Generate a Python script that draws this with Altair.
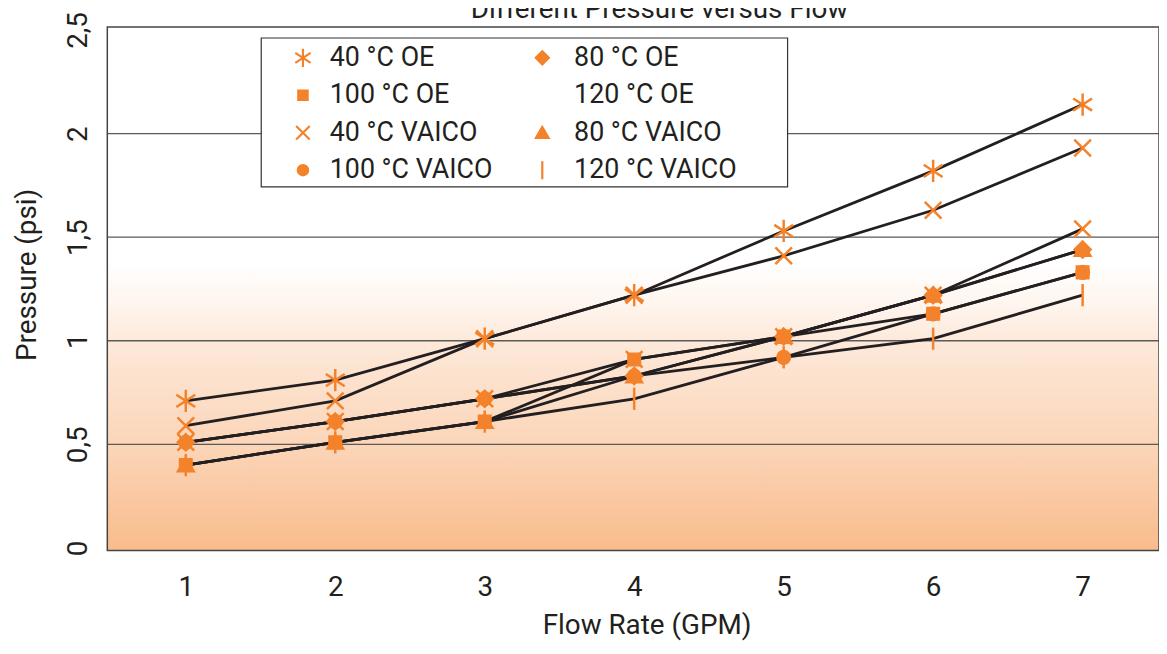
import altair as alt
import pandas as pd

# ---------------- data ----------------
flow = [1, 2, 3, 4, 5, 6, 7]

p_40_oe = [0.71, 0.81, 1.01, 1.22, 1.53, 1.82, 2.14]
p_100_oe = [0.40, 0.51, 0.61, 0.91, 1.02, 1.13, 1.33]
p_40_vaico = [0.59, 0.71, 1.01, 1.22, 1.41, 1.63, 1.93]
p_100_vaico = [0.51, 0.61, 0.72, 0.83, 0.92, 1.13, 1.33]
p_80_oe = [0.51, 0.61, 0.72, 0.83, 1.02, 1.22, 1.44]
p_120_oe = [0.51, 0.61, 0.72, 0.91, 1.02, 1.22, 1.54]
p_80_vaico = [0.40, 0.51, 0.61, 0.83, 1.02, 1.22, 1.44]
p_120_vaico = [0.40, 0.51, 0.61, 0.72, 0.92, 1.01, 1.22]

legend_names = ["40 °C OE", "100 °C OE", "40 °C VAICO", "100 °C VAICO",
                "80 °C OE", "120 °C OE", "80 °C VAICO", "120 °C VAICO"]
legend_markers = ["asterisk", "square", "cross", "circle",
                  "diamond", "none", "triangle", "bar"]
plot_markers = {"40 °C OE": "asterisk", "100 °C OE": "square",
                "40 °C VAICO": "cross", "100 °C VAICO": "circle",
                "80 °C OE": "diamond", "120 °C OE": "cross",
                "80 °C VAICO": "triangle", "120 °C VAICO": "bar"}
series_values = {"40 °C OE": p_40_oe, "100 °C OE": p_100_oe,
                 "40 °C VAICO": p_40_vaico, "100 °C VAICO": p_100_vaico,
                 "80 °C OE": p_80_oe, "120 °C OE": p_120_oe,
                 "80 °C VAICO": p_80_vaico, "120 °C VAICO": p_120_vaico}
# drawing order (later on top)
draw_order = ["80 °C VAICO", "80 °C OE", "120 °C OE", "100 °C VAICO",
              "100 °C OE", "120 °C VAICO", "40 °C VAICO", "40 °C OE"]

x_ticks = [1, 2, 3, 4, 5, 6, 7]
y_ticks = [0, 0.5, 1, 1.5, 2, 2.5]
grid_values = [0.5, 1, 1.5, 2]

title_text = "Different Pressure versus Flow"
x_title = "Flow Rate (GPM)"
y_title = "Pressure (psi)"

# ---------------- style ----------------
ORANGE = "#F3822A"
INK = "#231F20"
FONT = "Roboto"
W, H = 1059, 527

marker_names = ["asterisk", "square", "cross", "circle", "diamond", "none", "triangle", "bar"]
marker_paths = [
    "M0,-1L0,1M-0.85,-0.55L0.85,0.55M-0.85,0.55L0.85,-0.55",
    "M-0.52,-0.52L0.52,-0.52L0.52,0.52L-0.52,0.52Z",
    "M-0.75,-0.75L0.75,0.75M-0.75,0.75L0.75,-0.75",
    "M-0.57,0A0.57,0.57,0,1,0,0.57,0A0.57,0.57,0,1,0,-0.57,0Z",
    "M0,-0.72L0.72,0L0,0.72L-0.72,0Z",
    "M0,0",
    "M0,-0.64L0.7,0.56L-0.7,0.56Z",
    "M0,-1L0,1",
]
shape_scale = alt.Scale(domain=marker_names, range=marker_paths)

rows = []
for s in draw_order:
    for fx, v in zip(flow, series_values[s]):
        rows.append({"series": s, "flow": fx, "pressure": v, "mk": plot_markers[s]})
df = pd.DataFrame(rows)

xs = alt.Scale(domain=[0.475, 7.511], nice=False, zero=False)
ys = alt.Scale(domain=[-0.012, 2.514], nice=False, zero=False)

x_axis = alt.Axis(values=x_ticks, labelFont=FONT, labelFontSize=28, labelColor=INK,
                  ticks=False, tickSize=0, domain=False, grid=False,
                  labelBaseline="alphabetic", labelPadding=45,
                  title=x_title, titleFont=FONT, titleFontSize=28, titleFontWeight="normal",
                  titleColor=INK, titleX=543, titleY=84, titleBaseline="alphabetic",
                  titleAlign="center")
y_axis = alt.Axis(values=y_ticks, labelFont=FONT, labelFontSize=28, labelColor=INK,
                  ticks=False, tickSize=0, domain=False, grid=False,
                  labelAngle=270, labelAlign="center", labelBaseline="alphabetic",
                  labelPadding=21,
                  labelExpr="datum.value == floor(datum.value) ? format(datum.value, 'd') : replace(format(datum.value, '.1f'), '.', ',')",
                  title=y_title, titleFont=FONT, titleFontSize=28, titleFontWeight="normal",
                  titleColor=INK, titleAngle=270, titleX=-80, titleY=249,
                  titleAlign="center", titleBaseline="middle")

# background gradient
bg = alt.Chart(pd.DataFrame({"a": [0]})).mark_rect(
    fill=alt.Gradient(
        gradient="linear", x1=0, x2=0, y1=1, y2=0,
        stops=[alt.GradientStop(color="#F9BB8C", offset=0),
               alt.GradientStop(color="#FBD5B8", offset=0.2),
               alt.GradientStop(color="#FDE9DA", offset=0.4),
               alt.GradientStop(color="#FEF5EE", offset=0.47),
               alt.GradientStop(color="#FFFFFF", offset=0.55),
               alt.GradientStop(color="#FFFFFF", offset=1)]),
    strokeWidth=0,
).encode(x=alt.value(0), x2=alt.value(W), y=alt.value(0), y2=alt.value(H))

grid = alt.Chart(pd.DataFrame({"g": grid_values})).mark_rule(
    color="#5a5a5a", strokeWidth=1.3
).encode(y=alt.Y("g:Q", scale=ys, axis=y_axis), x=alt.value(0), x2=alt.value(W))

lines = alt.Chart(df).mark_line(color=INK, strokeWidth=2.8).encode(
    x=alt.X("flow:Q", scale=xs, axis=x_axis),
    y=alt.Y("pressure:Q", scale=ys, axis=y_axis),
    detail="series:N",
)

points = alt.Chart(df).mark_point(
    filled=True, fill=ORANGE, stroke=ORANGE, strokeWidth=2.5, opacity=1, size=500
).encode(
    x=alt.X("flow:Q", scale=xs, axis=x_axis),
    y=alt.Y("pressure:Q", scale=ys, axis=y_axis),
    shape=alt.Shape("mk:N", scale=shape_scale, legend=None),
)

# manual legend (layout in pixels)
leg_rows = []
for i, (n, m) in enumerate(zip(legend_names, legend_markers)):
    col, row = i // 4, i % 4
    leg_rows.append({"name": n, "mk": m,
                     "mx": 197 + col * 241, "tx": 224 + col * 246,
                     "py": 31 + row * 37.7})
leg_df = pd.DataFrame(leg_rows)

leg_box = alt.Chart(pd.DataFrame({"a": [0]})).mark_rect(
    fill="white", stroke="#333333", strokeWidth=1.2
).encode(x=alt.value(155), x2=alt.value(685), y=alt.value(11), y2=alt.value(161))

leg_marks = alt.Chart(leg_df).mark_point(
    filled=True, fill=ORANGE, stroke=ORANGE, strokeWidth=2.2, opacity=1, size=330
).encode(
    x=alt.X("mx:Q", scale=None, axis=None),
    y=alt.Y("py:Q", scale=None, axis=None),
    shape=alt.Shape("mk:N", scale=shape_scale, legend=None),
)

leg_text = alt.Chart(leg_df).mark_text(
    font=FONT, fontSize=27, color=INK, align="left", baseline="middle"
).encode(
    x=alt.X("tx:Q", scale=None, axis=None),
    y=alt.Y("py:Q", scale=None, axis=None),
    text="name:N",
)

title = alt.Chart(pd.DataFrame({"a": [0]})).mark_text(
    font=FONT, fontSize=28, color=INK, align="center", baseline="alphabetic"
).encode(x=alt.value(556), y=alt.value(-9), text=alt.value(title_text))

border = alt.Chart(pd.DataFrame({"a": [0]})).mark_rect(
    filled=False, stroke="#444444", strokeWidth=1.5, fill=None
).encode(x=alt.value(0), x2=alt.value(W), y=alt.value(0), y2=alt.value(H))

chart = alt.layer(bg, grid, lines, points, leg_box, leg_marks, leg_text, title, border).properties(
    width=W, height=H,
    autosize=alt.AutoSizeParams(type="none"),
    padding={"left": 100, "top": 17, "right": 0, "bottom": 90},
    background="white",
).configure_view(stroke=None)

chart.save("out.html", embed_options={"renderer": "svg", "actions": False})
